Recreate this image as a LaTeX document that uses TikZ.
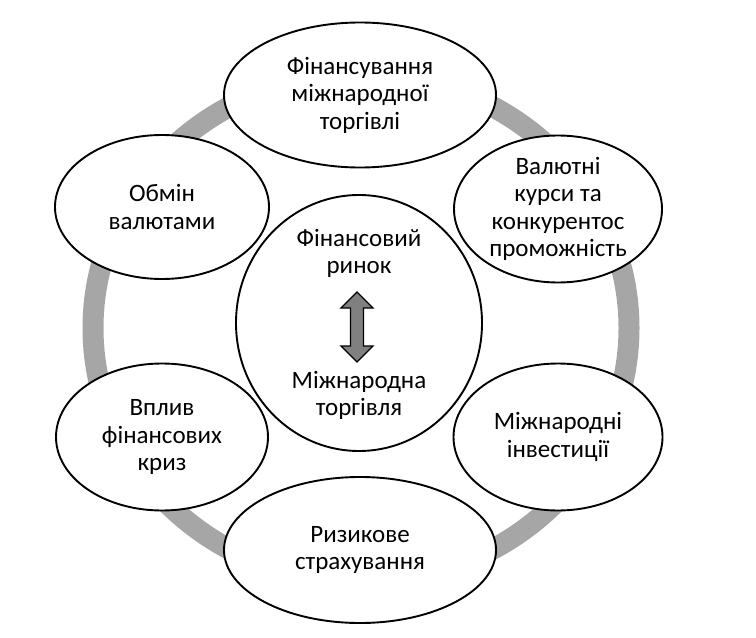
\documentclass[tikz,border=0pt]{standalone}
\usepackage{fontspec}
\setmainfont{Carlito}
\usetikzlibrary{shapes.geometric,calc}
\definecolor{ringgray}{RGB}{166,166,166}
\definecolor{arrowgray}{RGB}{128,128,128}
\tikzset{
  bubble/.style={ellipse, draw=black, line width=1.9bp, fill=white, inner sep=0pt,
    align=center, font=\fontsize{25bp}{27.5bp}\selectfont},
  lbl/.style={inner sep=0pt, align=center, font=\fontsize{25bp}{27bp}\selectfont},
  ring/.style={draw=ringgray, line width=21bp},
  dblarrow/.style={draw=black, line width=1.3bp, fill=arrowgray, line join=miter}
}
\begin{document}
\begin{tikzpicture}[x=1bp, y=-1bp]
\useasboundingbox (0,0) rectangle (756,638);
% ring
\draw[ring] (361,328) ellipse [x radius=268, y radius=254];
% centre circle
\node[bubble, minimum width=246bp, minimum height=256bp] (centre) at (359,323) {};
\node[lbl] (fin) at (359,253) {Фінансовий\\ринок};
\node[lbl] (trade) at (359,395) {Міжнародна\\торгівля};
\coordinate (arr) at (357,327);
\draw[dblarrow] ($(arr)+(0,-35)$) -- ++(16,16) -- ++(-9.5,0) -- ++(0,38) -- ++(9.5,0)
  -- ++(-16,16) -- ++(-16,-16) -- ++(9.5,0) -- ++(0,-38) -- ++(-9.5,0) -- cycle;
% outer bubbles
\node[bubble, minimum width=272bp, minimum height=145bp] (top) at (360,95)
  {Фінансування\\міжнародної\\торгівлі};
\node[bubble, minimum width=214bp, minimum height=144bp] (lt) at (162,207)
  {Обмін\\валютами};
\node[bubble, minimum width=208bp, minimum height=147bp] (rt) at (558,209)
  {Валютні\\курси та\\конкурентос\\проможність};
\node[bubble, minimum width=212bp, minimum height=147bp] (lb) at (162,437)
  {Вплив\\фінансових\\криз};
\node[bubble, minimum width=209bp, minimum height=147bp] (rb) at (558,437)
  {Міжнародні\\інвестиції};
\node[bubble, minimum width=272bp, minimum height=146bp] (bot) at (360,550)
  {Ризикове\\страхування};
\end{tikzpicture}
\end{document}
